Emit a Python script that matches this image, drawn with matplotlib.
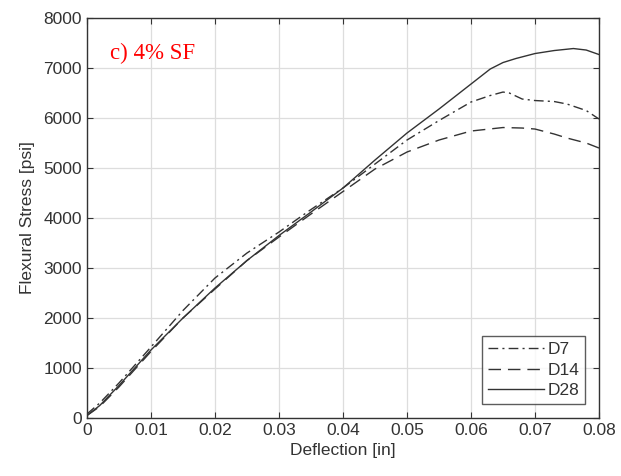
import matplotlib
matplotlib.use("Agg")
import matplotlib.pyplot as plt

x_d7 = [0, 0.002, 0.005, 0.01, 0.015, 0.02, 0.025, 0.03, 0.035, 0.04, 0.045, 0.05, 0.055, 0.06, 0.063, 0.065, 0.066, 0.068, 0.07, 0.073, 0.075, 0.078, 0.08]
y_d7 = [80, 300, 700, 1420, 2150, 2800, 3300, 3720, 4170, 4600, 5080, 5560, 5950, 6320, 6450, 6520, 6500, 6380, 6350, 6330, 6280, 6150, 5980]

x_d14 = [0, 0.002, 0.005, 0.01, 0.015, 0.02, 0.025, 0.03, 0.035, 0.04, 0.045, 0.05, 0.055, 0.06, 0.065, 0.068, 0.07, 0.073, 0.075, 0.078, 0.08]
y_d14 = [50, 230, 620, 1330, 2000, 2580, 3150, 3620, 4080, 4530, 4980, 5320, 5560, 5740, 5810, 5800, 5780, 5680, 5600, 5500, 5400]

x_d28 = [0, 0.002, 0.005, 0.01, 0.015, 0.02, 0.025, 0.03, 0.035, 0.04, 0.045, 0.05, 0.055, 0.06, 0.063, 0.065, 0.067, 0.07, 0.073, 0.076, 0.078, 0.08]
y_d28 = [50, 250, 650, 1360, 2000, 2600, 3150, 3650, 4120, 4600, 5160, 5700, 6180, 6680, 6980, 7110, 7190, 7290, 7350, 7390, 7360, 7270]

x_ticks = [0, 0.01, 0.02, 0.03, 0.04, 0.05, 0.06, 0.07, 0.08]
x_ticklabels = ["0", "0.01", "0.02", "0.03", "0.04", "0.05", "0.06", "0.07", "0.08"]
y_ticks = [0, 1000, 2000, 3000, 4000, 5000, 6000, 7000, 8000]

plt.rcParams['font.family'] = ['Liberation Sans', 'DejaVu Sans']

fig = plt.figure(figsize=(6.21, 4.76), dpi=100)
ax = fig.add_axes([0.140, 0.1218, 0.8246, 0.8403])

lc = '#333333'
ax.plot(x_d7, y_d7, color=lc, lw=1.0, linestyle=(0, (7, 3, 1.5, 3)), label='D7')
ax.plot(x_d14, y_d14, color=lc, lw=1.0, linestyle=(0, (9, 5)), label='D14')
ax.plot(x_d28, y_d28, color=lc, lw=1.0, linestyle='-', label='D28')

ax.set_xlim(0, 0.08)
ax.set_ylim(0, 8000)
ax.set_xticks(x_ticks)
ax.set_xticklabels(x_ticklabels)
ax.set_yticks(y_ticks)
ax.grid(True, color='#dddddd', lw=0.9)
ax.set_axisbelow(True)
ax.tick_params(direction='in', top=True, right=True, labelsize=12.5, colors='#333333', length=4)
for s in ax.spines.values():
    s.set_color('#333333')
    s.set_linewidth(1.0)

ax.set_xlabel('Deflection [in]', fontsize=12.5, color='#333333', labelpad=4)
ax.set_ylabel('Flexural Stress [psi]', fontsize=12.5, color='#333333', labelpad=6)

ax.text(0.0036, 7300, 'c) 4% SF', color='red', fontsize=16.5, family=['Liberation Serif'], va='center', ha='left')

leg = ax.legend(loc='lower right', fontsize=12.5, frameon=True, fancybox=False, handlelength=3.2,
                borderpad=0.35, labelspacing=0.3, handletextpad=0.2, borderaxespad=0.8)
leg.get_frame().set_edgecolor('#333333')
leg.get_frame().set_linewidth(1.0)
for t in leg.get_texts():
    t.set_color('#333333')

fig.savefig('out.png', dpi=100)
